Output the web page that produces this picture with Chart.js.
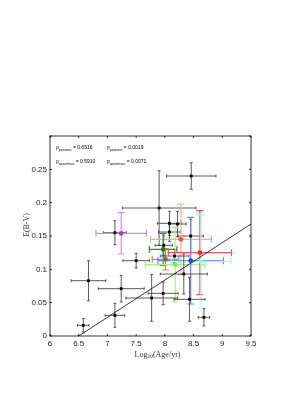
<!DOCTYPE html>
<html>
<head>
<meta charset="utf-8">
<script src="https://cdn.jsdelivr.net/npm/chart.js@4"></script>
<style>
  html, body { margin: 0; padding: 0; background: #fff; }
  #wrap { width: 305px; height: 394px; position: relative; }
</style>
</head>
<body>
<div id="wrap"><canvas id="ageChart" width="305" height="394"></canvas></div>
<script>
// cluster ages (log10 yr) and reddening, with errors
const logAge = [6.58, 6.67, 7.13, 7.24, 7.13, 7.24, 7.50, 7.90, 8.46, 8.08, 8.22, 8.08, 8.45, 8.28, 7.98, 7.97, 8.01, 8.17, 8.18, 8.61, 8.45, 8.63, 8.33, 7.77, 7.97, 8.43, 8.68];
const ebv    = [0.016, 0.083, 0.031, 0.071, 0.155, 0.154, 0.113, 0.192, 0.240, 0.169, 0.168, 0.156, 0.150, 0.145, 0.136, 0.130, 0.115, 0.120, 0.107, 0.125, 0.113, 0.112, 0.093, 0.057, 0.064, 0.055, 0.028];
const ageErr = [0.10, 0.30, 0.17, 0.40, 0.20, 0.44, 0.23, 0.64, 0.43, 0.21, 0.15, 0.19, 0.22, 0.53, 0.15, 0.24, 0.23, 0.25, 0.52, 0.55, 0.57, 0.52, 0.41, 0.45, 0.26, 0.27, 0.10];
const ebvErr = [0.010, 0.030, 0.018, 0.020, 0.018, 0.031, 0.011, 0.056, 0.020, 0.018, 0.019, 0.014, 0.025, 0.053, 0.015, 0.024, 0.016, 0.010, 0.056, 0.063, 0.065, 0.070, 0.030, 0.035, 0.017, 0.033, 0.013];
// marker colour, error bar colour
const markColor = ['#000', '#000', '#000', '#000', '#000', '#b030e0', '#000', '#000', '#000', '#000', '#000', '#000', '#000', '#ff5010', '#000', '#208020', '#a06020', '#000', '#70ff30', '#ff2020', '#2040ff', '#90ffe0', '#000', '#000', '#000', '#000', '#000'];
const barColor  = ['#333', '#333', '#333', '#333', '#333', '#d48cf0', '#333', '#333', '#333', '#333', '#333', '#333', '#333', '#ffa88c', '#333', '#3a8a3a', '#b8906a', '#333', '#a6f27e', '#ff5050', '#6a80ff', '#a0ffe8', '#333', '#333', '#333', '#333', '#333'];

const fitX = [6.5, 9.5];
const fitY = [0, 0.168];

const xTicks = [6, 6.5, 7, 7.5, 8, 8.5, 9, 9.5];
const yTicks = [0, 0.05, 0.1, 0.15, 0.2, 0.25, 0.3];

const statText = [
    ['ρ', 'pearson', ' = 0.6516', 56, 149],
    ['p', 'pearson', ' = 0.0019', 107, 149],
    ['ρ', 'spearman', ' = 0.5910', 56, 163],
    ['p', 'spearman', ' = 0.0071', 107, 163]
];

const errorBars = {
    id: 'errorBars',
    beforeDatasetsDraw(chart) {
        const c = chart.ctx;
        const xs = chart.scales.x, ys = chart.scales.y;
        c.save();
        for (let i = 0; i < logAge.length; i++) {
            const px = xs.getPixelForValue(logAge[i]);
            const py = ys.getPixelForValue(ebv[i]);
            const x1 = xs.getPixelForValue(logAge[i] - ageErr[i]);
            const x2 = xs.getPixelForValue(logAge[i] + ageErr[i]);
            const y1 = ys.getPixelForValue(ebv[i] - ebvErr[i]);
            const y2 = ys.getPixelForValue(ebv[i] + ebvErr[i]);
            const black = markColor[i] === '#000';
            const cap = black ? 1.5 : 3.5;
            c.strokeStyle = barColor[i];
            c.lineWidth = black ? 0.8 : 1.2;
            c.beginPath();
            c.moveTo(x1, py); c.lineTo(x2, py);
            c.moveTo(x1, py - cap); c.lineTo(x1, py + cap);
            c.moveTo(x2, py - cap); c.lineTo(x2, py + cap);
            c.moveTo(px, y1); c.lineTo(px, y2);
            c.moveTo(px - cap, y1); c.lineTo(px + cap, y1);
            c.moveTo(px - cap, y2); c.lineTo(px + cap, y2);
            c.stroke();
        }
        c.restore();
    }
};

const frame = {
    id: 'frame',
    afterDraw(chart) {
        const c = chart.ctx;
        const a = chart.chartArea;
        const xs = chart.scales.x, ys = chart.scales.y;
        c.save();
        c.strokeStyle = '#000';
        c.lineWidth = 0.8;
        c.strokeRect(a.left, a.top, a.right - a.left, a.bottom - a.top);
        c.beginPath();
        xTicks.forEach(v => {
            const x = xs.getPixelForValue(v);
            c.moveTo(x, a.bottom); c.lineTo(x, a.bottom - 2);
            c.moveTo(x, a.top); c.lineTo(x, a.top + 2);
        });
        yTicks.forEach(v => {
            const y = ys.getPixelForValue(v);
            c.moveTo(a.left, y); c.lineTo(a.left + 2, y);
            c.moveTo(a.right, y); c.lineTo(a.right - 2, y);
        });
        c.stroke();
        // correlation text
        c.fillStyle = '#000';
        c.textBaseline = 'alphabetic';
        c.textAlign = 'left';
        statText.forEach(t => {
            let x = t[3];
            c.font = '5px "Liberation Sans"';
            c.fillText(t[0], x, t[4]);
            x += c.measureText(t[0]).width;
            c.font = '3.5px "Liberation Sans"';
            c.fillText(t[1], x, t[4] + 1.5);
            x += c.measureText(t[1]).width;
            c.font = '5px "Liberation Sans"';
            c.fillText(t[2], x, t[4]);
        });
        // axis titles
        c.fillStyle = '#333';
        c.textBaseline = 'middle';
        const parts = [['Log', 8, 0], ['10', 5.5, 2], ['(Age/yr)', 8, 0]];
        let w = 0;
        parts.forEach(p => { c.font = p[1] + 'px "Liberation Serif"'; w += c.measureText(p[0]).width; });
        let x = (a.left + a.right) / 2 + 7 - w / 2;
        parts.forEach(p => {
            c.font = p[1] + 'px "Liberation Serif"';
            c.fillText(p[0], x, 355 + p[2]);
            x += c.measureText(p[0]).width;
        });
        c.translate(27, 225);
        c.rotate(-Math.PI / 2);
        c.textAlign = 'center';
        c.font = '8px "Liberation Serif"';
        c.fillText('E(B-V)', 0, 0);
        c.restore();
    }
};

const ctx = document.getElementById('ageChart').getContext('2d');
const ageChart = new Chart(ctx, {
    type: 'scatter',
    data: {
        datasets: [{
            type: 'line',
            data: fitX.map((x, i) => ({ x: x, y: fitY[i] })),
            borderColor: '#000',
            borderWidth: 0.8,
            pointRadius: 0,
            fill: false,
            order: 2
        }, {
            data: logAge.map((x, i) => ({ x: x, y: ebv[i] })),
            backgroundColor: markColor,
            borderColor: markColor,
            borderWidth: 0,
            pointStyle: markColor.map(c => c === '#000' ? 'rect' : 'circle'),
            pointRadius: markColor.map(c => c === '#000' ? 2 : 2.4),
            order: 1
        }]
    },
    options: {
        responsive: false,
        animation: false,
        layout: { padding: { top: 136, right: 54, left: 21, bottom: 38 } },
        plugins: {
            legend: { display: false },
            tooltip: { enabled: false }
        },
        scales: {
            x: {
                type: 'linear',
                min: 6,
                max: 9.5,
                afterBuildTicks: s => { s.ticks = xTicks.map(v => ({ value: v })); },
                afterFit: s => { s.height = 20; },
                grid: { display: false, drawTicks: false },
                border: { display: false },
                ticks: {
                    color: '#222',
                    font: { family: 'Liberation Sans', size: 8 },
                    padding: 3,
                    maxRotation: 0,
                    callback: v => String(v)
                }
            },
            y: {
                type: 'linear',
                min: 0,
                max: 0.3,
                afterBuildTicks: s => { s.ticks = yTicks.map(v => ({ value: v })); },
                afterFit: s => { s.width = 29; },
                grid: { display: false, drawTicks: false },
                border: { display: false },
                ticks: {
                    color: '#222',
                    font: { family: 'Liberation Sans', size: 8 },
                    padding: 3,
                    callback: v => v >= 0.3 ? '' : String(+v.toFixed(2))
                }
            }
        }
    },
    plugins: [errorBars, frame]
});
</script>
</body>
</html>
